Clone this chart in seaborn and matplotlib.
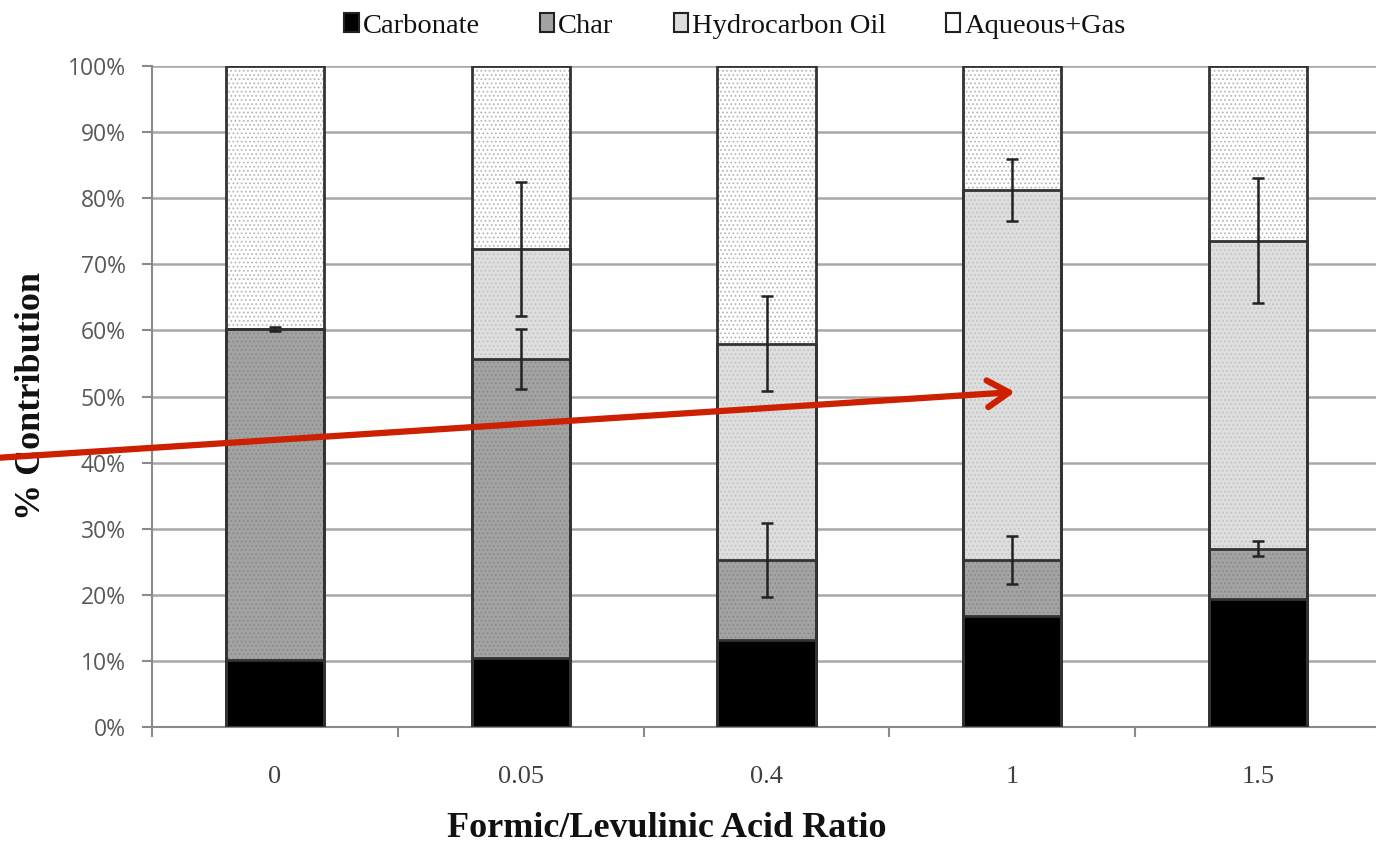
import matplotlib
matplotlib.use("Agg")
import matplotlib.pyplot as plt
import seaborn as sns
import numpy as np
import pandas as pd
from matplotlib.patches import Patch

# ---- data ----
ratios = ["0", "0.05", "0.4", "1", "1.5"]
carbonate = [10.1, 10.4, 13.2, 16.8, 19.3]
char = [50.1, 45.3, 12.1, 8.5, 7.7]
oil = [0.0, 16.6, 32.7, 55.9, 46.6]
aqueous = [39.8, 27.7, 42.0, 18.8, 26.4]
char_err = [0.3, 4.5, 5.6, 3.6, 1.2]
oil_err = [0.0, 10.1, 7.2, 4.7, 9.4]
series_names = ["Carbonate", "Char", "Hydrocarbon Oil", "Aqueous+Gas"]
yticks = [0, 10, 20, 30, 40, 50, 60, 70, 80, 90, 100]

sns.set_theme(style="white")
plt.rcParams["font.family"] = ["Liberation Serif", "DejaVu Serif"]
plt.rcParams["hatch.linewidth"] = 0.8

W, H = 1376, 842
fig = plt.figure(figsize=(W / 100, H / 100), dpi=100)
ax = fig.add_axes([152 / W, 1 - 727 / H, (1381 - 152) / W, (727 - 66) / H])

cum1 = np.array(carbonate)
cum2 = cum1 + np.array(char)
cum3 = cum2 + np.array(oil)
cum4 = cum3 + np.array(aqueous)

df = pd.DataFrame({"ratio": ratios, "c1": cum1, "c2": cum2, "c3": cum3, "c4": cum4})

layers = [
    ("c4", "#ffffff", "#b8b8b8", "...."),
    ("c3", "#dedede", "#c4c4c4", "...."),
    ("c2", "#a3a3a3", "#8c8c8c", "...."),
    ("c1", "#000000", "#000000", None),
]
bw = 0.4
for col, fc, hc, hatch in layers:
    sns.barplot(data=df, x="ratio", y=col, ax=ax, color=fc, width=bw,
                edgecolor=hc, linewidth=0, hatch=hatch, saturation=1, zorder=2)
    sns.barplot(data=df, x="ratio", y=col, ax=ax, fill=False, width=bw,
                edgecolor="#333333", linewidth=2.0, zorder=3)

xpos = np.arange(len(ratios))
ax.errorbar(xpos, cum2, yerr=char_err, fmt="none", ecolor="#222222",
            elinewidth=1.8, capsize=4, capthick=1.8, zorder=5)
mask = np.array(oil) > 0
ax.errorbar(xpos[mask], cum3[mask], yerr=np.array(oil_err)[mask], fmt="none",
            ecolor="#222222", elinewidth=1.8, capsize=4, capthick=1.8, zorder=5)

ax.set_ylim(0, 100)
ax.set_xlim(-0.5, len(ratios) - 0.5)
ax.set_yticks(yticks)
ax.set_yticklabels([f"{v}%" for v in yticks], family=["Open Sans", "DejaVu Sans"],
                   fontsize=16.5, color="#595959")
ax.set_xticklabels(ratios, fontsize=19, color="#404040")
ax.yaxis.grid(True, color="#a8a8a8", linewidth=1.8, zorder=0)
ax.set_axisbelow(True)
for s in ["top", "right"]:
    ax.spines[s].set_visible(False)
for s in ["left", "bottom"]:
    ax.spines[s].set_color("#8a8a8a")
    ax.spines[s].set_linewidth(1.5)
ax.tick_params(axis="y", which="major", direction="out", length=7, width=1.5,
               color="#8a8a8a", left=True, pad=12)
ax.tick_params(axis="x", which="major", length=0, pad=28)
ax.set_xticks(np.arange(-0.5, len(ratios) + 0.5, 1.0), minor=True)
ax.tick_params(axis="x", which="minor", direction="out", length=7, width=1.5,
               color="#8a8a8a", bottom=True)

ax.set_xlabel("Formic/Levulinic Acid Ratio", fontsize=26, fontweight="bold",
              color="#111111")
ax.xaxis.set_label_coords((667 - 152) / (1381 - 152), -0.128)
ax.set_ylabel("% Contribution", fontsize=26, fontweight="bold", color="#111111",
              labelpad=14)

handles = [
    Patch(facecolor="#000000", edgecolor="#222222", linewidth=1.5),
    Patch(facecolor="#a3a3a3", edgecolor="#222222", linewidth=1.5),
    Patch(facecolor="#dedede", edgecolor="#222222", linewidth=1.5),
    Patch(facecolor="#ffffff", edgecolor="#222222", linewidth=1.5),
]
fig.legend(handles, series_names, loc="center", bbox_to_anchor=(735 / W, 1 - 26 / H),
           ncol=4, frameon=False, fontsize=20.5, handlelength=0.5, handleheight=0.6,
           handletextpad=0.15, columnspacing=2.1, labelcolor="#111111")

# red arrow annotation
ax.annotate("", xy=(1015, H - 392), xycoords="figure pixels",
            xytext=(-5, H - 458), textcoords="figure pixels",
            arrowprops=dict(arrowstyle="->,head_length=1.3,head_width=0.8",
                            color="#cc2000", lw=4.5, shrinkA=0, shrinkB=0),
            annotation_clip=False, zorder=10)

fig.savefig("out.png", dpi=100)
